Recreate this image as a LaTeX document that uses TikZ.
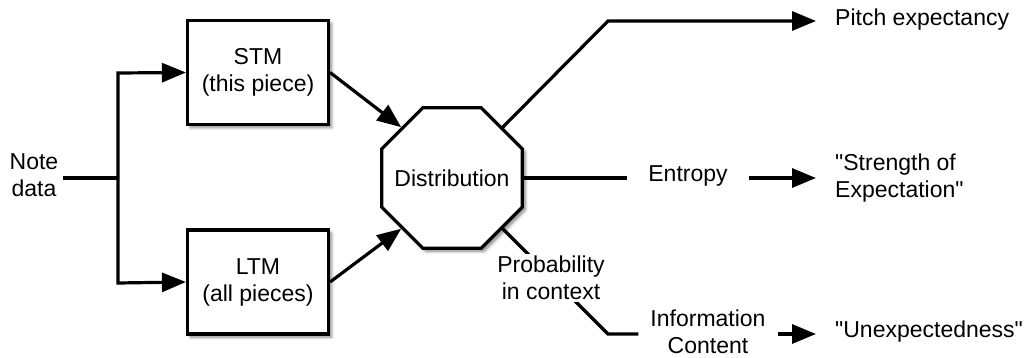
\documentclass[tikz,border=0pt]{standalone}
\usepackage{fontspec}
\setmainfont{Liberation Sans}[Ligatures=TeXOff]
\usetikzlibrary{shapes.geometric,arrows.meta,shadows.blur,calc}
\begin{document}
\begin{tikzpicture}[x=1pt,y=-1pt,
  every node/.style={font=\fontsize{23}{27}\selectfont, align=center},
  box/.style={draw, line width=3.2pt, fill=white, minimum width=141pt, minimum height=104pt, inner sep=0pt,
    blur shadow={shadow xshift=3pt, shadow yshift=-3pt, shadow blur steps=6, shadow blur radius=3pt, shadow opacity=50}},
  oct/.style={draw, line width=3.2pt, fill=white, regular polygon, regular polygon sides=8, minimum size=152pt, inner sep=0pt,
    blur shadow={shadow xshift=3pt, shadow yshift=-3pt, shadow blur steps=6, shadow blur radius=3pt, shadow opacity=50}},
  conn/.style={line width=3.2pt},
  arr/.style={line width=3.2pt, -{Triangle[length=24pt,width=19pt]}},
  lbl/.style={inner sep=0pt}
]
\useasboundingbox (0,0) rectangle (1027,358);
\node[lbl] (note) at (34,175) {Note\\data};
\node[box] (stm) at (258,72.5) {STM\\(this piece)};
\node[box] (ltm) at (258,282) {LTM\\(all pieces)};
\node[oct] (dist) at (452,178) {};
\node[lbl] (distlbl) at (dist.center) {Distribution};
\coordinate (split) at (118,178);
\coordinate (up) at (118,73);
\coordinate (down) at (118,283);
\draw[conn] ($(note.east)+(5,3)$) coordinate (ns) -- (split);
\draw[arr] (split) -- (up) -- (stm.west);
\draw[arr] (split) -- (down) -- (ltm.west);
\draw[arr] (stm.east) -- (dist.135);
\draw[arr] (ltm.east) -- (dist.225);

\node[lbl, inner xsep=19pt, anchor=west] (pitch) at (816,20) {Pitch expectancy};
\coordinate (bend1) at (608,21);
\draw[arr] (dist.45) -- (bend1) -- (bend1 -| pitch.west);

\node[lbl, inner xsep=21pt] (ent) at (688,176) {Entropy};
\node[lbl, inner xsep=19pt, anchor=west, align=left] (strength) at (816,178) {"Strength of\\Expectation"};
\draw[conn] (dist.east) -- (dist.east -| ent.west);
\draw[arr] (dist.east -| ent.east) -- (dist.east -| strength.west);

\node[lbl, inner xsep=12pt] (info) at (708,332) {Information\\Content};
\node[lbl, inner xsep=19pt, anchor=west] (unexp) at (816,332) {"Unexpectedness"};
\coordinate (bend2) at (608,334);
\draw[conn] (dist.-45) -- (bend2) -- (info.west |- bend2);
\node[fill=white, inner xsep=1pt, inner ysep=2pt] (prob) at (551,278) {Probability\\in context};
\draw[arr] (info.east |- bend2) -- (unexp.west |- bend2);
\end{tikzpicture}
\end{document}
